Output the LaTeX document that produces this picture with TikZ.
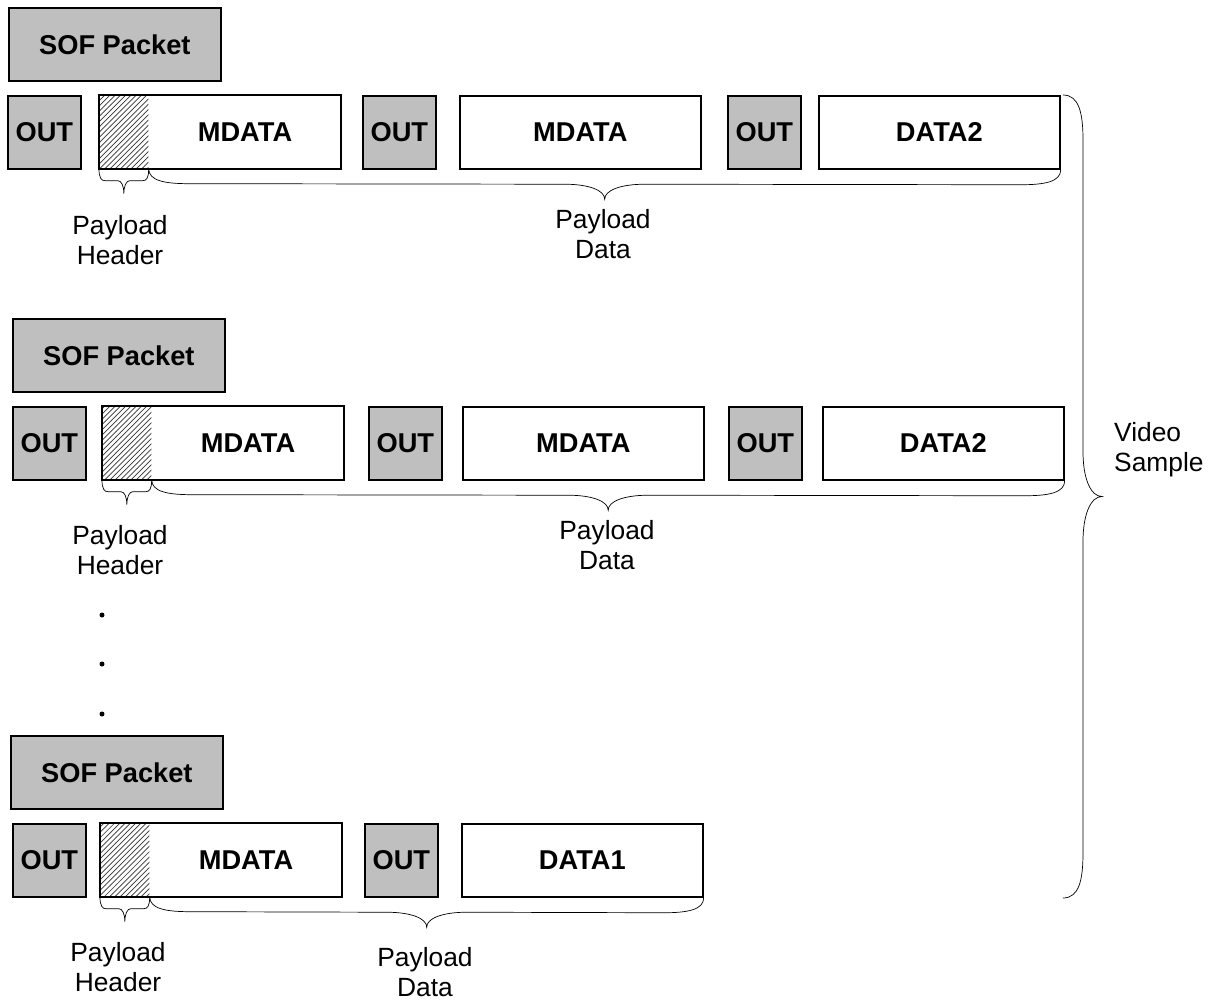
\documentclass[tikz,border=0pt]{standalone}
\usepackage{fontspec}
\setmainfont{Liberation Sans}
\usetikzlibrary{patterns,calc}

\tikzset{
  boxfont/.style={font=\fontsize{15.5}{17}\selectfont\bfseries},
  outbox/.style={draw, line width=1pt, fill=black!25, minimum width=1.46cm,
    minimum height=1.46cm, inner sep=0pt, boxfont},
  sofbox/.style={outbox, minimum width=4.24cm},
  databox/.style={draw, line width=1pt, fill=white, minimum width=4.82cm,
    minimum height=1.46cm, inner sep=0pt, boxfont},
  hdrbox/.style={pattern=north east lines, pattern color=black!80,
    minimum width=0.98cm, minimum height=1.46cm, inner sep=0pt},
  mdbox/.style={minimum width=3.84cm, minimum height=1.46cm, inner sep=0pt, boxfont},
  lbl/.style={align=center, font=\fontsize{15}{17}\selectfont},
  % curly brace under a stretch: run, depth, tip
  hbrace/.style n args={3}{line width=0.9pt, to path={
    (\tikztostart) .. controls +(0,0.8*#2) and +(-0.6*#1,0) .. ($(\tikztostart)+(#1,#2)$)
    -- ($(\tikztostart)!.5!(\tikztotarget)+(-#1,#2)$)
    .. controls +(0.6*#1,0) and +(0,-0.6*#3) .. ($(\tikztostart)!.5!(\tikztotarget)+(0,#2+#3)$)
    .. controls +(0,-0.6*#3) and +(-0.6*#1,0) .. ($(\tikztostart)!.5!(\tikztotarget)+(#1,#2)$)
    -- ($(\tikztotarget)+(-#1,#2)$)
    .. controls +(0.6*#1,0) and +(0,0.8*#2) .. (\tikztotarget)}},
  % curly brace on the right side
  vbrace/.style n args={3}{line width=0.9pt, to path={
    (\tikztostart) .. controls +(0.8*#2,0) and +(0,-0.6*#1) .. ($(\tikztostart)+(#2,#1)$)
    -- ($(\tikztostart)!.5!(\tikztotarget)+(#2,-#1)$)
    .. controls +(0,0.6*#1) and +(-0.6*#3,0) .. ($(\tikztostart)!.5!(\tikztotarget)+(#2+#3,0)$)
    .. controls +(-0.6*#3,0) and +(0,-0.6*#1) .. ($(\tikztostart)!.5!(\tikztotarget)+(#2,#1)$)
    -- ($(\tikztotarget)+(#2,-#1)$)
    .. controls +(0,0.6*#1) and +(0.8*#2,0) .. (\tikztotarget)}},
}

\begin{document}
\begin{tikzpicture}[x=0.02cm, y=-0.02cm]
    \useasboundingbox (0,0) rectangle (1211,1001);

    % First frame
    \node[sofbox, anchor=north west] (sof1) at (8,7) {SOF Packet\hspace{6pt}};
    \node[outbox, anchor=north west] (out1a) at (7,95) {OUT};
    \node[hdrbox, anchor=north west] (hdr1) at (99,95) {};
    \node[mdbox, anchor=north west] (md1a) at (hdr1.north east) {MDATA};
    \draw[line width=1pt] (hdr1.north west) rectangle (md1a.south east);
    \node[outbox, anchor=north west] (out1b) at (362,95) {OUT};
    \node[databox, anchor=north west] (md1b) at (459,95) {MDATA};
    \node[outbox, anchor=north west] (out1c) at (727,95) {OUT};
    \node[databox, anchor=north west] (dat1) at (818,95) {DATA2};

    \draw (hdr1.south west) to[hbrace={6}{12}{13}] (hdr1.south east);
    \draw (hdr1.south east) to[hbrace={40}{15}{15}] (dat1.south east);
    \node[lbl] (phd1) at (120,240) {Payload\\Header};
    \node[lbl] (pdt1) at (603,234) {Payload\\Data};

    % Second frame
    \node[sofbox, anchor=north west] (sof2) at (12,318) {SOF Packet\hspace{6pt}};
    \node[outbox, anchor=north west] (out2a) at (12,406) {OUT};
    \node[hdrbox, anchor=north west] (hdr2) at (102,406) {};
    \node[mdbox, anchor=north west] (md2a) at (hdr2.north east) {MDATA};
    \draw[line width=1pt] (hdr2.north west) rectangle (md2a.south east);
    \node[outbox, anchor=north west] (out2b) at (368,406) {OUT};
    \node[databox, anchor=north west] (md2b) at (462,406) {MDATA};
    \node[outbox, anchor=north west] (out2c) at (728,406) {OUT};
    \node[databox, anchor=north west] (dat2) at (822,406) {DATA2};

    \draw (hdr2.south west) to[hbrace={6}{12}{13}] (hdr2.south east);
    \draw (hdr2.south east) to[hbrace={40}{15}{15}] (dat2.south east);
    \node[lbl] (phd2) at (120,550) {Payload\\Header};
    \node[lbl] (pdt2) at (607,545) {Payload\\Data};

    % more frames
    \fill (102,615) circle (2.5);
    \fill (102,664) circle (2.5);
    \fill (102,714) circle (2.5);

    % Last frame
    \node[sofbox, anchor=north west] (sof3) at (10,735) {SOF Packet\hspace{6pt}};
    \node[outbox, anchor=north west] (out3a) at (12,823) {OUT};
    \node[hdrbox, anchor=north west] (hdr3) at (100,823) {};
    \node[mdbox, anchor=north west] (md3a) at (hdr3.north east) {MDATA};
    \draw[line width=1pt] (hdr3.north west) rectangle (md3a.south east);
    \node[outbox, anchor=north west] (out3b) at (364,823) {OUT};
    \node[databox, anchor=north west] (dat3) at (461,823) {DATA1};

    \draw (hdr3.south west) to[hbrace={6}{12}{13}] (hdr3.south east);
    \draw (hdr3.south east) to[hbrace={40}{15}{15}] (dat3.south east);
    \node[lbl] (phd3) at (118,967) {Payload\\Header};
    \node[lbl] (pdt3) at (425,972) {Payload\\Data};

    % Whole sample
    \coordinate (vtop) at (1063,95);
    \coordinate (vbot) at (1063,898);
    \draw (vtop) to[vbrace={45}{20}{19}] (vbot);
    \node[lbl, align=left, anchor=west] (vid) at (1108,450) {Video\\Sample};

\end{tikzpicture}
\end{document}
